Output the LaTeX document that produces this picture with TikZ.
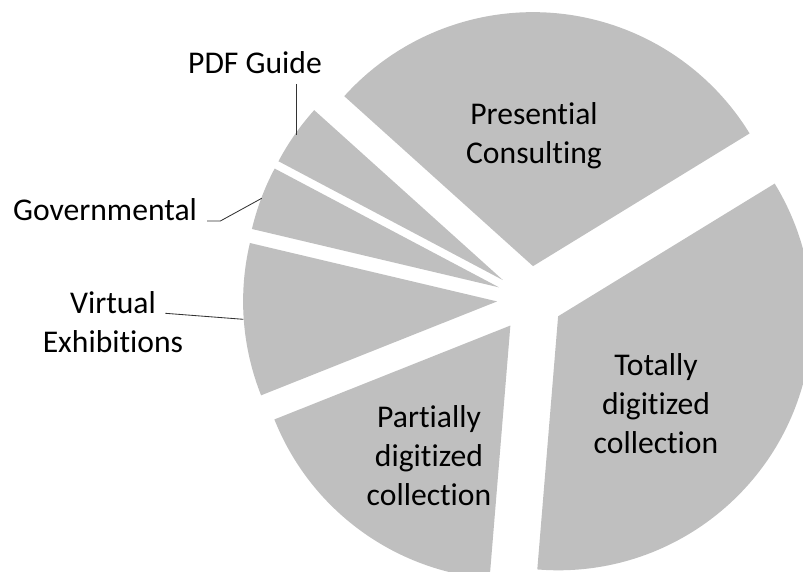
\documentclass[tikz,border=0pt]{standalone}
\usepackage{fontspec}
\setmainfont{Carlito}[Ligatures={NoCommon,NoContextual}]
\usetikzlibrary{calc}
\definecolor{slicegray}{RGB}{191,191,191}
\def\pieslice[#1](#2)(#3:#4:#5:#6){\fill[#1] ($(#2)+({(#3+#4)/2}:#6)$) -- ++(#3:#5) arc (#3:#4:#5) -- cycle;}
\tikzset{
	slicelabel/.style={font=\fontsize{22.5}{27.6}\selectfont, align=center, inner sep=3pt},
	leader/.style={line width=0.6pt, color=black!80}
}

\begin{document}
\begin{tikzpicture}
		%%%%% START %%%%%
		
		\useasboundingbox (0, 0) rectangle (20.075, 14.275);
		\clip (0, 0) rectangle (20.075, 14.275);
		
		\pieslice[slicegray](13.25, 6.8)(31.5:138:6.35:0.825)
		\pieslice[slicegray](13.25, 6.8)(138:152.1:6.35:0.825)
		\pieslice[slicegray](13.25, 6.8)(152.1:166.7:6.35:0.825)
		\pieslice[slicegray](13.25, 6.8)(166.7:201.7:6.35:0.825)
		\pieslice[slicegray](13.25, 6.8)(201.7:265.3:6.35:0.825)
		\pieslice[slicegray](13.25, 6.8)(265.3:391.5:6.35:0.825)
		
		\node[slicelabel] (presential) at (13.35, 10.875) {Presential\\Consulting};
		\node[slicelabel] (totally) at (16.4, 4.185) {Totally\\digitized\\collection};
		\node[slicelabel] (partially) at (10.725, 2.885) {Partially\\digitized\\collection};
		
		\node[slicelabel] (virtual) at (2.825, 6.2125) {Virtual\\Exhibitions};
		\node[slicelabel] (governmental) at (2.625, 9.0225) {Governmental};
		\node[slicelabel] (pdfguide) at (6.375, 12.715) {PDF Guide};
		
		\coordinate (pdfguide end) at (7.4, 10.9);
		\coordinate (governmental end) at (6.5425, 9.3175);
		\coordinate (virtual end) at (6.0825, 6.2925);
		
		\draw[leader] ([yshift=-0.145cm]pdfguide.south -| pdfguide end) -- (pdfguide end);
		\draw[leader] ([xshift=0.145cm]governmental.base east) -- ++(0.33, 0) -- (governmental end);
		\draw[leader] ([shift={(-0.56, 0.23)}]virtual.east) -- (virtual end);
		
		%%%%% END %%%%%
	\end{tikzpicture}
\end{document}
